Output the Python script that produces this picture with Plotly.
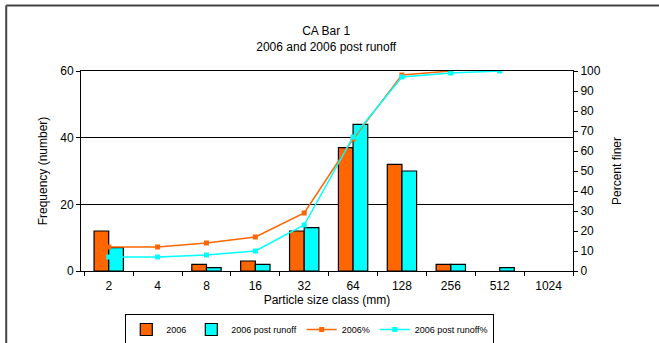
import plotly.graph_objects as go

# particle size classes (mm) and counts
sizes = ["2", "4", "8", "16", "32", "64", "128", "256", "512", "1024"]
freq_2006 = [12, 0, 2, 3, 12, 37, 32, 2, 0, 0]
freq_post = [7, 0, 1, 2, 13, 44, 30, 2, 1, 0]

# cumulative percent finer (lines stop where curves reach 100)
pct_sizes_2006 = ["2", "4", "8", "16", "32", "64", "128", "256"]
pct_2006 = [12, 12, 14, 17, 29, 66, 98, 100]
pct_sizes_post = ["2", "4", "8", "16", "32", "64", "128", "256", "512"]
pct_post = [7, 7, 8, 10, 23, 67, 97, 99, 100]

ORANGE = "#FF6600"
CYAN = "#00FFFF"
FONT = "Liberation Sans, Arial, sans-serif"


def hide_zero(vals):
    # empty classes show no bar outline in the original
    return [v if v else None for v in vals]


fig = go.Figure()
fig.add_trace(go.Bar(x=sizes, y=hide_zero(freq_2006), name="2006",
                     marker=dict(color=ORANGE, line=dict(color="black", width=1.2))))
fig.add_trace(go.Bar(x=sizes, y=hide_zero(freq_post), name="2006 post runoff",
                     marker=dict(color=CYAN, line=dict(color="black", width=1.2))))
fig.add_trace(go.Scatter(x=pct_sizes_2006, y=pct_2006, name="2006%", yaxis="y2",
                         mode="lines+markers", line=dict(color=ORANGE, width=1.5),
                         marker=dict(symbol="square", size=5, color=ORANGE)))
fig.add_trace(go.Scatter(x=pct_sizes_post, y=pct_post, name="2006 post runoff%", yaxis="y2",
                         mode="lines+markers", line=dict(color=CYAN, width=1.5),
                         marker=dict(symbol="square", size=5, color=CYAN)))

axis_common = dict(showline=True, linecolor="black", linewidth=1, ticks="outside",
                   ticklen=4, tickcolor="black", tickfont=dict(size=12, color="black"),
                   automargin=False)

fig.update_layout(
    width=659, height=343,
    margin=dict(l=81, r=86, t=71, b=72, autoexpand=False),
    paper_bgcolor="white", plot_bgcolor="white",
    font=dict(family=FONT, size=12, color="black"),
    title=dict(text="CA Bar 1<br>2006 and 2006 post runoff", x=0.495, xanchor="center",
               y=0.898, yanchor="middle", font=dict(size=12)),
    barmode="group", bargap=0.4, bargroupgap=0,
    xaxis=dict(type="category", tickson="boundaries", mirror=True, ticklabelstandoff=4,
               title=dict(text="Particle size class (mm)", standoff=0, font=dict(size=12)),
               **axis_common),
    yaxis=dict(range=[0, 60], dtick=20, showgrid=True, gridcolor="black", gridwidth=1,
               zeroline=False, title=dict(text="Frequency (number)", standoff=10,
               font=dict(size=12)), **axis_common),
    yaxis2=dict(range=[0, 100], dtick=10, overlaying="y", side="right", showgrid=False,
                zeroline=False, title=dict(text="Percent finer", standoff=12,
                font=dict(size=12)), **axis_common),
    legend=dict(orientation="h", x=0.465, xanchor="center", y=-0.215, yanchor="top",
                bordercolor="black", borderwidth=1, font=dict(size=9),
                itemwidth=30, tracegroupgap=0),
    showlegend=True,
)

# outer chart frame (only top and left edges visible)
fig.add_shape(type="line", xref="paper", yref="paper", x0=-0.152, x1=1.2, y0=1.328, y1=1.328,
              line=dict(color="#444444", width=2))
fig.add_shape(type="line", xref="paper", yref="paper", x0=-0.152, x1=-0.152, y0=-0.4, y1=1.328,
              line=dict(color="#444444", width=2))

# remove the default page margin so the figure sits at the window's corner
fig.write_html("out.html", config={"displayModeBar": False},
               post_script="document.body.style.margin='0';")
